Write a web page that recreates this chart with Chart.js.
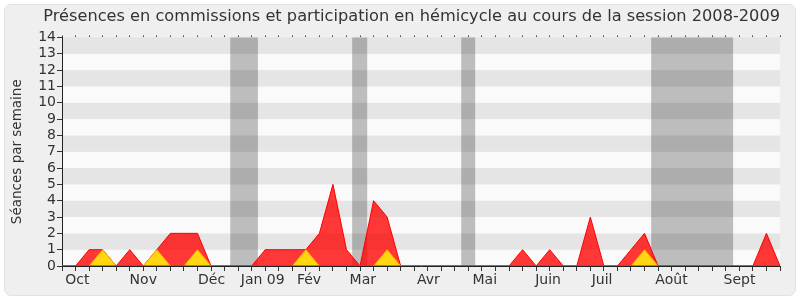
<!DOCTYPE html>
<html>
<head>
<meta charset="utf-8">
<script src="https://cdn.jsdelivr.net/npm/chart.js@4/dist/chart.umd.min.js"></script>
<style>
  html, body { margin: 0; padding: 0; background: #fff; }
  #card { position: absolute; left: 4px; top: 4px; width: 790px; height: 290px; background: #efefef; border: 1px solid #e2e2e2; border-radius: 7px; }
  #wrap { position: absolute; left: 0; top: 0; width: 800px; height: 300px; }
</style>
</head>
<body>
<div id="card"></div>
<div id="wrap"><canvas id="graficoPresences" width="800" height="300"></canvas></div>
<script>
// semaines de la session (0 = fin septembre 2008)
const semaines = [];
for (let i = 0; i <= 53; i++) semaines.push(i);

// séances par semaine
const commissions = [0,0,1,1,0,1,0,1,2,2, 2,0,0,0,0,1,1,1,1,2, 5,1,0,4,3,0,0,0,0,0, 0,0,0,0,1,0,1,0,0,3, 0,0,1,2,0,0,0,0,0,0, 0,0,2,0];
const hemicycle   = [0,0,0,1,0,0,0,1,0,0, 1,0,0,0,0,0,0,0,1,0, 0,0,0,0,1,0,0,0,0,0, 0,0,0,0,0,0,0,0,0,0, 0,0,0,1,0,0,0,0,0,0, 0,0,0,0];
const interventions = semaines.map(() => 0);

// libellés des mois (position en semaines)
const moisLabels = ['Oct', 'Nov', 'Déc', 'Jan 09', 'Fév', 'Mar', 'Avr', 'Mai', 'Juin', 'Juil', 'Août', 'Sept'];
const moisPos    = [0.24, 4.99, 10.04, 13.2, 17.34, 21.23, 26.2, 30.3, 34.93, 39.1, 43.8, 48.83];

// vacances parlementaires (début, fin en semaines)
const vacances = [[12.42, 14.46], [21.42, 22.53], [29.47, 30.5], [43.49, 49.54]];

const fondBandes = {
  id: 'fondBandes',
  beforeDraw(chart) {
    const ctx = chart.ctx, x = chart.scales.x, y = chart.scales.y;
    const a = chart.chartArea;
    ctx.save();
    for (let k = 0; k < 14; k++) {
      const y0 = y.getPixelForValue(k + 1), y1 = y.getPixelForValue(k);
      ctx.fillStyle = (k % 2 === 1) ? '#e5e5e5' : '#fafafa';
      ctx.fillRect(a.left, y0, a.right - a.left, y1 - y0);
    }
    ctx.fillStyle = 'rgba(0,0,0,0.245)';
    vacances.forEach(v => {
      const x0 = x.getPixelForValue(v[0]), x1 = x.getPixelForValue(v[1]);
      ctx.fillRect(x0, a.top, x1 - x0, a.bottom - a.top);
    });
    ctx.restore();
  }
};

const police = "'DejaVu Sans', Verdana, sans-serif";

new Chart(document.getElementById('graficoPresences'), {
  type: 'line',
  data: {
    labels: semaines,
    datasets: [
      {
        label: 'Interventions',
        data: interventions,
        borderColor: '#1a5a1a',
        borderWidth: 1,
        pointRadius: 0,
        fill: false
      },
      {
        label: 'Participation en hémicycle',
        data: hemicycle,
        borderColor: '#ffaa00',
        backgroundColor: '#ffd60f',
        borderWidth: 1,
        pointRadius: 0,
        fill: 'origin'
      },
      {
        label: 'Présences en commissions',
        data: commissions,
        borderColor: '#ff0000',
        backgroundColor: 'rgba(255,0,0,0.78)',
        borderWidth: 1,
        pointRadius: 0,
        fill: 'origin'
      }
    ]
  },
  options: {
    responsive: false,
    animation: false,
    layout: { padding: { left: 5, top: 4, right: 20, bottom: 8 } },
    plugins: {
      legend: { display: false },
      tooltip: { enabled: false },
      title: {
        display: true,
        align: 'end',
        text: 'Présences en commissions et participation en hémicycle au cours de la session 2008-2009',
        color: '#333',
        font: { family: police, size: 16.2, weight: 'normal' },
        padding: { top: 3, bottom: 9 }
      }
    },
    scales: {
      x: {
        type: 'linear',
        min: 0,
        max: 53,
        afterBuildTicks: (s) => {
          s.ticks = semaines.map(v => ({ value: v })).concat(moisPos.map(v => ({ value: v })));
        },
        afterFit: (s) => { s.height = 26; },
        ticks: {
          autoSkip: false,
          maxRotation: 0,
          align: 'start',
          padding: 1,
          color: '#333',
          font: { family: police, size: 14 },
          callback: (v) => {
            const i = moisPos.indexOf(v);
            return i >= 0 ? moisLabels[i] : '';
          }
        },
        grid: {
          drawOnChartArea: false,
          tickLength: 5,
          tickColor: (c) => (c.tick && moisPos.indexOf(c.tick.value) >= 0) ? 'rgba(0,0,0,0)' : '#333'
        },
        border: { color: '#222', width: 1 }
      },
      x2: {
        type: 'linear',
        position: 'top',
        min: 0,
        max: 53,
        afterBuildTicks: (s) => { s.ticks = semaines.map(v => ({ value: v })); },
        afterFit: (s) => { s.height = 2; },
        ticks: { display: false, autoSkip: false },
        grid: { drawOnChartArea: false, tickLength: 2, tickColor: '#444' },
        border: { display: false }
      },
      y: {
        min: 0,
        max: 14,
        afterFit: (s) => { s.width = 57; },
        ticks: {
          stepSize: 1,
          autoSkip: false,
          padding: 1,
          color: '#333',
          font: { family: police, size: 14 }
        },
        grid: { drawOnChartArea: false, tickLength: 5, tickColor: '#333' },
        border: { color: '#222', width: 1 },
        title: {
          display: true,
          text: 'Séances par semaine',
          color: '#333',
          padding: { top: 4, bottom: 0 },
          font: { family: police, size: 13.5 }
        }
      }
    }
  },
  plugins: [fondBandes]
});
</script>
</body>
</html>
